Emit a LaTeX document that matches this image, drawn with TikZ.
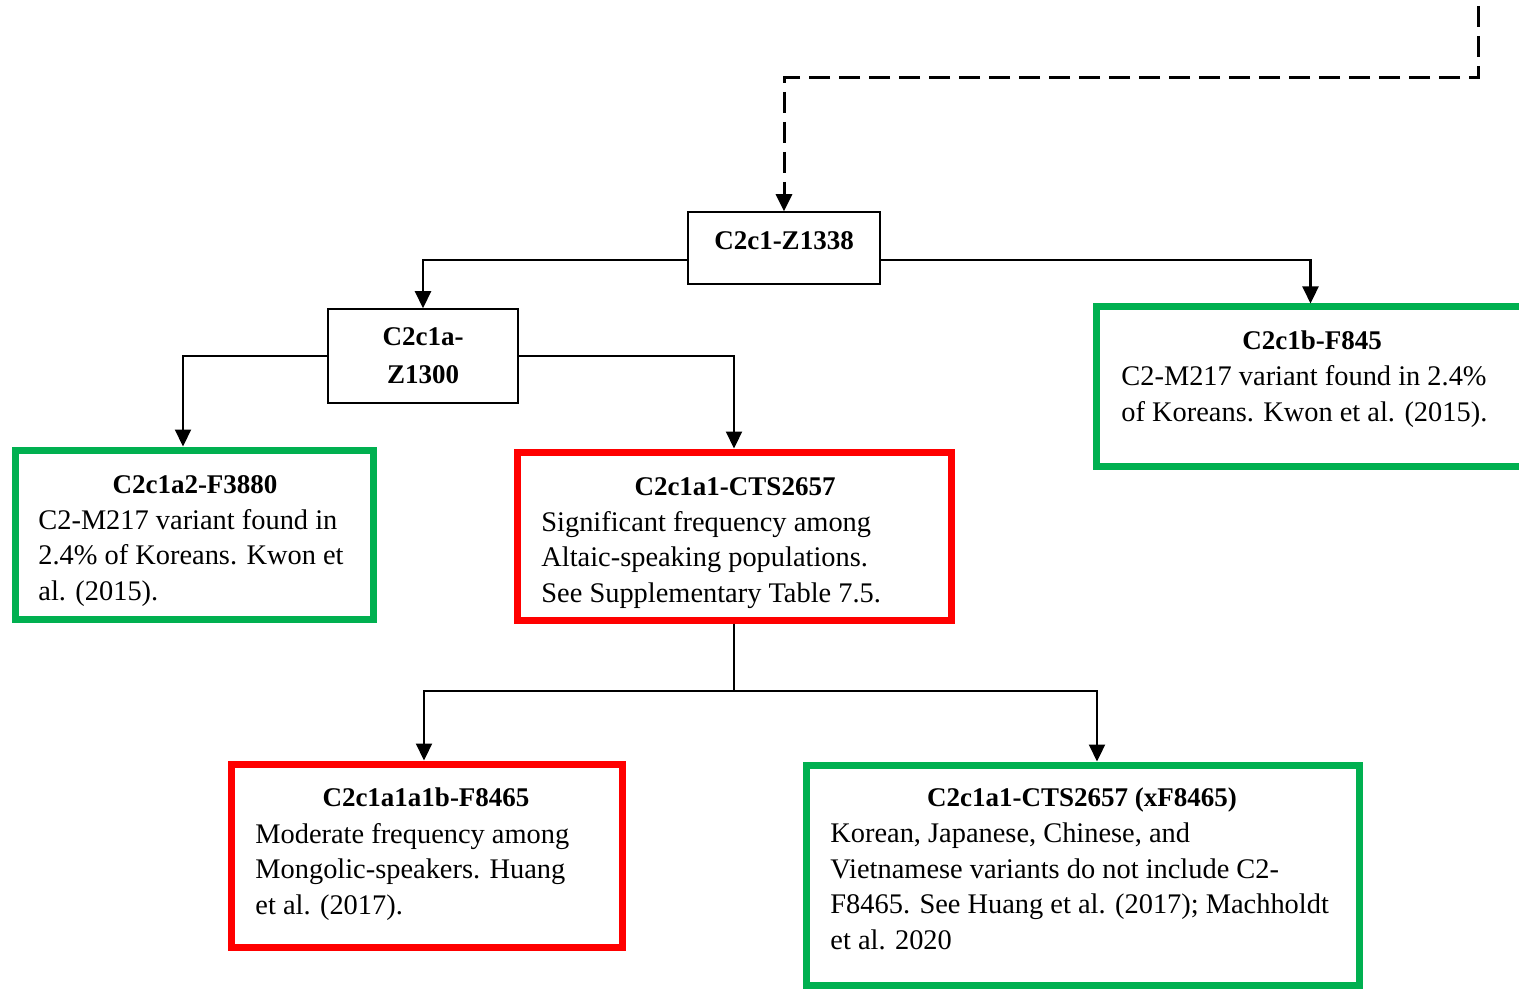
\documentclass[tikz,border=0pt]{standalone}
\usepackage{fontspec}
\setmainfont{Liberation Serif}
\usetikzlibrary{arrows.meta}
\definecolor{cgreen}{HTML}{00B050}
\definecolor{cred}{HTML}{FF0000}
\begin{document}
\begin{tikzpicture}[x=0.5pt,y=-0.5pt,
  tbox/.style={draw=black,line width=0.75pt,inner sep=0pt,fill=white},
  gbox/.style={draw=cgreen,line width=3.5pt,inner sep=0pt},
  rbox/.style={draw=cred,line width=3.5pt,inner sep=0pt},
  conn/.style={line width=1.1pt,-{Triangle[width=8pt,length=8.5pt]}},
  dconn/.style={conn,line width=1.5pt,dash pattern=on 10.5pt off 4.5pt},
  ttl/.style={font=\fontsize{13.5}{17.75}\selectfont\bfseries,anchor=base,inner sep=0pt},
  bdy/.style={font=\fontsize{14.2}{17.75}\selectfont,anchor=base west,align=left,inner sep=0pt}]
\useasboundingbox (0,0) rectangle (1519,989);
\clip (0,0) rectangle (1519,989);
% boxes
\node[tbox,minimum width=96pt,minimum height=36pt] (A) at (784,248) {};
\node[tbox,minimum width=95pt,minimum height=47pt] (B) at (423,356) {};
\node[gbox,minimum width=232pt,minimum height=79.5pt] (C) at (1328,386.5) {};
\node[gbox,minimum width=179pt,minimum height=84.5pt] (D) at (194.5,534.5) {};
\node[rbox,minimum width=217pt,minimum height=84pt] (E) at (734,536) {};
\node[rbox,minimum width=195.5pt,minimum height=91.5pt] (F) at (426.5,855.5) {};
\node[gbox,minimum width=276.5pt,minimum height=110pt] (G) at (1082.5,875) {};
% texts (body nodes anchored at the baseline of their last line)
\node[ttl] (At) at (784,250) {C2c1-Z1338};
\node[ttl] (Bt1) at (423,346) {C2c1a-};
\node[ttl] (Bt2) at (423,383) {Z1300};
\node[ttl] (Ct) at (1312,350) {C2c1b-F845};
\node[bdy] (Cb) at (1121,421) {C2-M217 variant found in 2.4\%\\of Koreans. Kwon et al. (2015).};
\node[ttl] (Dt) at (195,493) {C2c1a2-F3880};
\node[bdy] (Db) at (38,600) {C2-M217 variant found in\\2.4\% of Koreans. Kwon et\\al. (2015).};
\node[ttl] (Et) at (735,495) {C2c1a1-CTS2657};
\node[bdy] (Eb) at (541,602) {Significant frequency among\\Altaic-speaking populations.\\See Supplementary Table 7.5.};
\node[ttl] (Ft) at (426,806) {C2c1a1a1b-F8465};
\node[bdy] (Fb) at (255,914) {Moderate frequency among\\Mongolic-speakers. Huang\\et al. (2017).};
\node[ttl] (Gt) at (1082,806) {C2c1a1-CTS2657 (xF8465)};
\node[bdy] (Gb) at (830,949) {Korean, Japanese, Chinese, and\\Vietnamese variants do not include C2-\\F8465. See Huang et al. (2017); Machholdt\\et al. 2020};
% connectors
\coordinate (top) at (1478,6);
\coordinate (bend) at (1478,78);
\draw[dconn] (top) -- (bend) -| (A.north);
\draw[conn] ([yshift=-6pt]A.west) -| (B.north);
\draw[conn] ([yshift=-6pt]A.east) -| ([xshift=109pt]C.north west);
\draw[conn] (B.west) -| ([xshift=-5.75pt]D.north);
\draw[conn] (B.east) -| (E.north);
\coordinate (split) at (734,691);
\draw[line width=1.1pt] (E.south) -- (split);
\draw[conn] (split) -| ([xshift=-1.25pt]F.north);
\draw[conn] (split) -| ([xshift=7.25pt]G.north);
\end{tikzpicture}
\end{document}
